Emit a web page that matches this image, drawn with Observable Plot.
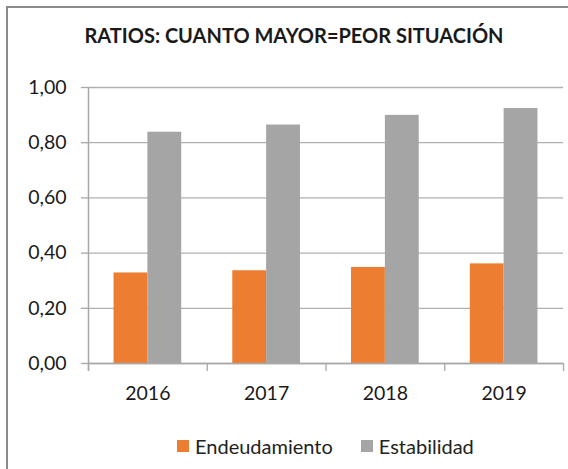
<!DOCTYPE html>
<html>
<head>
<meta charset="utf-8">
<script src="https://cdn.jsdelivr.net/npm/d3@7"></script>
<script src="https://cdn.jsdelivr.net/npm/@observablehq/plot@0.6"></script>
<style>
  html, body { margin: 0; padding: 0; background: #fff; }
  body { width: 568px; height: 469px; position: relative; overflow: hidden; font-family: Lato, "Open Sans", sans-serif; }
  #frame { position: absolute; left: 6px; top: 6px; width: 640px; height: 540px; border: 2px solid #8a8a8a; box-sizing: border-box; }
  #title { position: absolute; left: 0; top: 0; width: 568px; height: 67px; }
  #title div { position: absolute; left: 84px; top: 23px; width: 420px; text-align: center; font-weight: bold; font-size: 20px; color: #1a1a1a; white-space: nowrap; }
  #chart { position: absolute; left: 0; top: 67px; }
  #legend { position: absolute; left: 177px; top: 434px; display: flex; align-items: center; font-size: 20px; color: #222; white-space: nowrap; }
  .sw { display: inline-block; width: 12px; height: 12px; margin-right: 6px; }
  .item { display: flex; align-items: center; margin-right: 28px; }
</style>
</head>
<body>
<div id="frame"></div>
<div id="title"><div>RATIOS: CUANTO MAYOR=PEOR SITUACIÓN</div></div>
<div id="chart"></div>
<div id="legend"></div>
<script>
const years = ["2016", "2017", "2018", "2019"];
const series = ["Endeudamiento", "Estabilidad"];
const endeudamiento = [0.328, 0.336, 0.348, 0.361];
const estabilidad = [0.838, 0.864, 0.899, 0.924];
const yTicks = [0, 0.2, 0.4, 0.6, 0.8, 1.0];
const colors = ["#ed7d31", "#a5a5a5"];

// position of each bar inside its category slot (slot width = 1 on the x scale)
const barStart = 0.215, barMid = 0.5, barEnd = 0.785;

const rows = [];
years.forEach((yr, i) => {
  rows.push({year: yr, series: series[0], value: endeudamiento[i], x1: i + barStart, x2: i + barMid});
  rows.push({year: yr, series: series[1], value: estabilidad[i], x1: i + barMid, x2: i + barEnd});
});

const fmt = d => d.toFixed(2).replace(".", ",");
const boundaries = d3.range(years.length + 1);
const centers = years.map((_, i) => i + 0.5);

const plot = Plot.plot({
  width: 568,
  height: 353,
  marginLeft: 88,
  marginRight: 5,
  marginTop: 20,
  marginBottom: 57,
  style: {fontFamily: "Lato, 'Open Sans', sans-serif", fontSize: "19.5px", color: "#222", background: "transparent"},
  x: {type: "linear", domain: [0, years.length]},
  y: {type: "linear", domain: [0, 1]},
  color: {domain: series, range: colors},
  marks: [
    Plot.gridY(yTicks, {stroke: "#b0b0b0", strokeOpacity: 1, strokeWidth: 1.3}),
    Plot.rectY(rows, {x1: "x1", x2: "x2", y1: 0, y2: "value", fill: "series"}),
    Plot.ruleY([0], {stroke: "#a8a8a8", strokeWidth: 1.5}),
    Plot.ruleX([0], {stroke: "#a8a8a8", strokeWidth: 1.5, insetBottom: -8}),
    Plot.axisY(yTicks, {tickSize: 7, tickPadding: 15, tickFormat: fmt, stroke: "#a8a8a8", strokeWidth: 1.3, fill: "#1a1a1a", label: null}),
    Plot.axisX(boundaries, {tickSize: 8, tickFormat: () => "", stroke: "#a8a8a8", strokeWidth: 1.3, label: null}),
    Plot.axisX(centers, {tickSize: 0, tickPadding: 23, tickFormat: d => years[Math.floor(d)], fill: "#1a1a1a", label: null})
  ]
});
document.getElementById("chart").appendChild(plot);

const legend = document.getElementById("legend");
series.forEach((s, i) => {
  const item = document.createElement("span");
  item.className = "item";
  const sw = document.createElement("span");
  sw.className = "sw";
  sw.style.background = colors[i];
  item.appendChild(sw);
  item.appendChild(document.createTextNode(s));
  legend.appendChild(item);
});
</script>
</body>
</html>
